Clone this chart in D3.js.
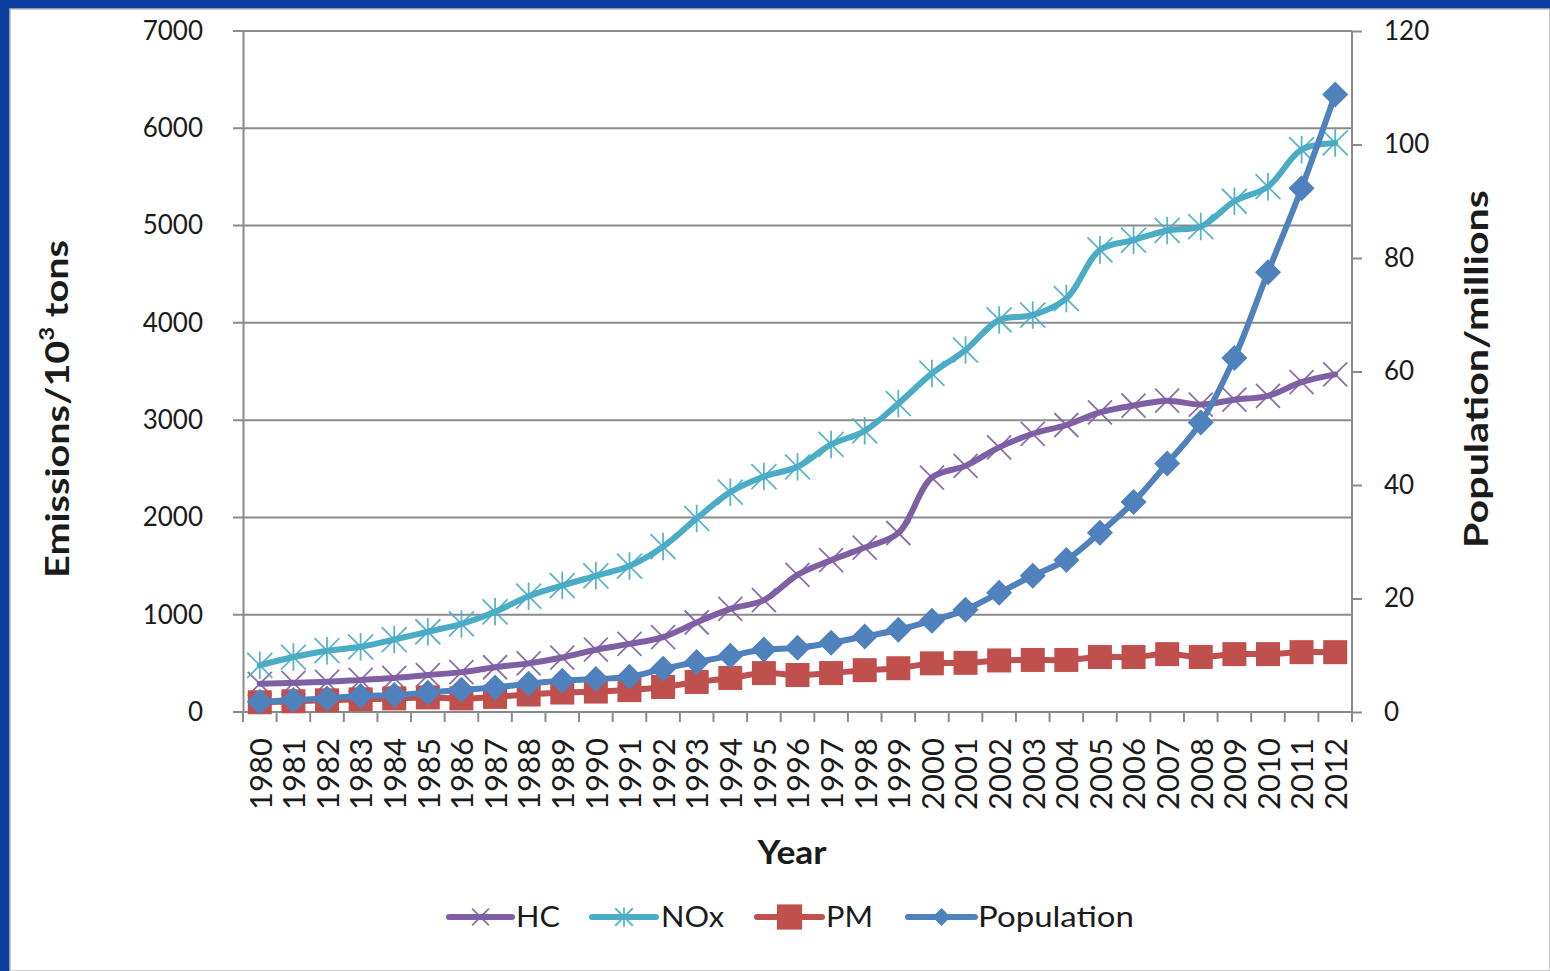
<!DOCTYPE html>
<html><head><meta charset="utf-8">
<script src="https://cdn.jsdelivr.net/npm/d3@7"></script>
<style>body{margin:0;background:#fff;overflow:hidden}</style>
</head><body><svg id="c" width="1550" height="971"></svg>
<script>
const years = ["1980","1981","1982","1983","1984","1985","1986","1987","1988","1989","1990","1991","1992","1993","1994","1995","1996","1997","1998","1999","2000","2001","2002","2003","2004","2005","2006","2007","2008","2009","2010","2011","2012"];
const hc  = [290,300,310,330,350,380,410,460,500,560,640,700,770,920,1060,1150,1410,1560,1690,1840,2410,2530,2720,2860,2950,3080,3150,3200,3160,3210,3250,3390,3470];
const nox = [480,565,630,670,745,825,905,1030,1190,1300,1400,1500,1700,1990,2260,2420,2520,2750,2890,3170,3480,3720,4030,4080,4250,4750,4850,4950,4990,5250,5400,5780,5850];
const pm  = [100,110,120,130,140,150,140,155,180,200,210,225,257,308,350,400,380,400,430,450,500,505,530,535,535,565,565,595,565,595,595,615,615];
const population = [1.8,2.1,2.4,2.8,3.0,3.4,3.9,4.3,5.0,5.5,5.8,6.2,7.6,8.8,9.9,11.0,11.3,12.2,13.3,14.5,16.1,18.0,21.0,24.0,26.8,31.6,37.0,43.8,51.0,62.4,77.5,92.3,108.8];
const leftTicks = [0,1000,2000,3000,4000,5000,6000,7000];
const rightTicks = [0,20,40,60,80,100,120];
const seriesNames = ["HC","NOx","PM","Population"];
const colors = {HC:"#7f5fa3",NOx:"#4aacc5",PM:"#c0504d",Population:"#4f81bd"};

const svg = d3.select("#c");
const FONT = "Lato, 'Open Sans', sans-serif";
const INK = "#1b1b1b";
const GRID = "#8a8a8a";

// frame
svg.append("rect").attr("width",1550).attr("height",971).attr("fill","#0b3e9f");
svg.append("rect").attr("x",10).attr("y",9).attr("width",1540).attr("height",962).attr("fill","#fff").attr("stroke","#b9b9b9").attr("stroke-width",1.5);

const L = 243, R = 1352, T = 31, B = 712;
const x = d3.scaleBand().domain(years).range([L,R]).padding(0);
const cx = d => x(d) + x.bandwidth()/2;
const yL = d3.scaleLinear().domain([0,7000]).range([B,T]);
const yR = d3.scaleLinear().domain([0,120]).range([B,T]);

// gridlines
svg.append("g").selectAll("line").data(leftTicks).join("line")
  .attr("x1",L-10).attr("x2",R).attr("y1",d=>yL(d)).attr("y2",d=>yL(d))
  .attr("stroke",GRID).attr("stroke-width",2);

// left axis
const gl = svg.append("g").attr("transform",`translate(${L},0)`)
  .call(d3.axisLeft(yL).tickValues(leftTicks).tickFormat(d3.format("d")).tickSize(0).tickPadding(40));
gl.select(".domain").attr("stroke",GRID).attr("stroke-width",2);
gl.selectAll("text").attr("font-family",FONT).attr("font-size",26).attr("fill",INK);

// right axis
const gr = svg.append("g").attr("transform",`translate(${R},0)`)
  .call(d3.axisRight(yR).tickValues(rightTicks).tickFormat(d3.format("d")).tickSize(10).tickPadding(22));
gr.select(".domain").attr("stroke",GRID).attr("stroke-width",2).attr("d",`M0,${T}V${B}`);
gr.selectAll(".tick line").attr("stroke",GRID).attr("stroke-width",2);
gr.selectAll("text").attr("font-family",FONT).attr("font-size",26).attr("fill",INK);

// bottom axis
svg.append("line").attr("x1",L).attr("x2",R).attr("y1",B).attr("y2",B).attr("stroke",GRID).attr("stroke-width",2);
const bounds = years.map(d=>x(d)).concat([R]);
svg.append("g").selectAll("line").data(bounds).join("line")
  .attr("x1",d=>d).attr("x2",d=>d).attr("y1",B).attr("y2",B+10)
  .attr("stroke",GRID).attr("stroke-width",2);
svg.append("g").selectAll("text").data(years).join("text")
  .attr("transform",d=>`translate(${cx(d)+1},${B+26}) rotate(-90)`)
  .attr("text-anchor","end").attr("dy","0.36em")
  .attr("font-family",FONT).attr("font-size",30).attr("fill",INK)
  .attr("textLength",72).attr("lengthAdjust","spacingAndGlyphs")
  .text(d=>d);

// stretch a text node along its writing direction to a target length
function fit(sel, target) {
  const w = sel.node().getBBox().width;
  if (w > 0) sel.attr("transform", sel.attr("transform") + ` scale(${target/w},1)`);
}

// axis titles
const t1 = svg.append("text").attr("transform","translate(57,409) rotate(-90)")
  .attr("text-anchor","middle").attr("dy","0.35em")
  .attr("font-family",FONT).attr("font-weight","bold").attr("font-size",33).attr("fill",INK);
t1.append("tspan").text("Emissions/10");
t1.append("tspan").attr("font-size",20).attr("dy","-0.75em").text("3");
t1.append("tspan").attr("dy","0.45em").text(" tons");
fit(t1, 338);

const t2 = svg.append("text").attr("transform","translate(1476,369) rotate(-90)")
  .attr("text-anchor","middle").attr("dy","0.35em")
  .attr("font-family",FONT).attr("font-weight","bold").attr("font-size",33).attr("fill",INK)
  .text("Population/millions");
fit(t2, 358);

const t3 = svg.append("text").attr("transform","translate(792,852)").attr("text-anchor","middle").attr("dy","0.35em")
  .attr("font-family",FONT).attr("font-weight","bold").attr("font-size",33).attr("fill",INK)
  .text("Year");
fit(t3, 71);

// markers
function marker(g, name, px, py, s) {
  const c = colors[name];
  if (name === "HC") {
    const h = 12*s;
    g.append("path").attr("d",`M${px-h},${py-h}L${px+h},${py+h}M${px-h},${py+h}L${px+h},${py-h}`)
      .attr("stroke",c).attr("stroke-width",1.8).attr("fill","none").attr("stroke-opacity",0.9);
  } else if (name === "NOx") {
    const h = 12.5*s;
    g.append("path").attr("d",`M${px-h},${py-h}L${px+h},${py+h}M${px-h},${py+h}L${px+h},${py-h}M${px},${py-h*1.1}L${px},${py+h*1.1}`)
      .attr("stroke",c).attr("stroke-width",1.8).attr("fill","none").attr("stroke-opacity",0.9);
  } else if (name === "PM") {
    const h = 12*s;
    g.append("rect").attr("x",px-h).attr("y",py-h).attr("width",2*h).attr("height",2*h).attr("fill",c);
  } else {
    const h = 13*s;
    g.append("path").attr("d",`M${px},${py-h}L${px+h},${py}L${px},${py+h}L${px-h},${py}Z`).attr("fill",c);
  }
}

const series = [
  {name:"HC", vals:hc, y:yL},
  {name:"NOx", vals:nox, y:yL},
  {name:"PM", vals:pm, y:yL},
  {name:"Population", vals:population, y:yR}
];
const line = d3.line().curve(d3.curveCatmullRom.alpha(0.5));
series.forEach(s => {
  const g = svg.append("g");
  const pts = years.map((yr,i)=>[cx(yr), s.y(s.vals[i])]);
  g.append("path").attr("d",line(pts)).attr("fill","none")
    .attr("stroke",colors[s.name]).attr("stroke-width",6).attr("stroke-linejoin","round").attr("stroke-linecap","round");
  pts.forEach(p => marker(g, s.name, p[0], p[1], 1));
});

// legend
const legendItems = [
  {name:"HC", x1:449, x2:512, tx:516, tl:44},
  {name:"NOx", x1:592, x2:656, tx:661, tl:63},
  {name:"PM", x1:757, x2:822, tx:826, tl:47},
  {name:"Population", x1:908, x2:975, tx:978, tl:156}
];
const ly = 917;
const lg = svg.append("g");
legendItems.forEach(it => {
  lg.append("line").attr("x1",it.x1).attr("x2",it.x2).attr("y1",ly).attr("y2",ly)
    .attr("stroke",colors[it.name]).attr("stroke-width",6).attr("stroke-linecap","round");
  marker(lg, it.name, (it.x1+it.x2)/2, ly, it.name==="PM"?1.05:0.7);
  lg.append("text").attr("x",it.tx).attr("y",ly).attr("dy","0.36em")
    .attr("font-family",FONT).attr("font-size",29).attr("fill",INK)
    .attr("textLength",it.tl).attr("lengthAdjust","spacingAndGlyphs").text(it.name);
});
</script></body></html>
